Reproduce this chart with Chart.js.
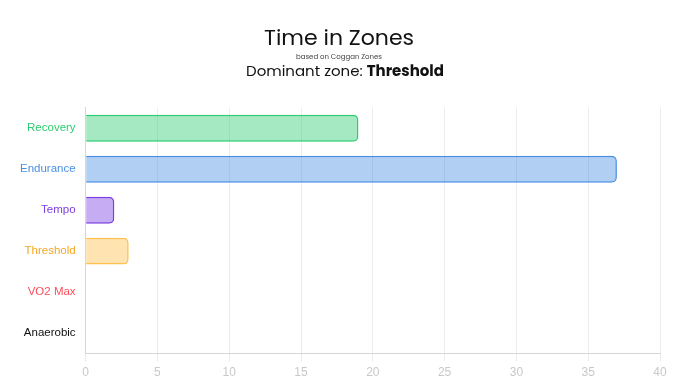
<!DOCTYPE html>
<html>
<head>
<meta charset="utf-8">
<script src="https://cdn.jsdelivr.net/npm/chart.js@4/dist/chart.umd.min.js"></script>
<style>
  body { margin: 0; background: #fff; }
  #wrap { width: 690px; height: 387px; }
</style>
</head>
<body>
<div id="wrap"><canvas id="chart-area"></canvas></div>
<script>
// time in each zone (minutes)
var zones = ['Recovery', 'Endurance', 'Tempo', 'Threshold', 'VO2 Max', 'Anaerobic'];
var minutes = [19, 37, 2, 3, 0, 0];
var zoneColors = ['#2ecc71', '#4a90e2', '#7b3fe4', '#f5a623', '#ff4d5a', '#111111'];
var zoneFills = ['rgba(46,204,113,0.43)', 'rgba(74,144,226,0.43)', 'rgba(123,63,228,0.43)', 'rgba(255,192,77,0.43)', 'rgba(255,77,90,0.43)', 'rgba(0,0,0,0.43)'];
var zoneBorders = ['#2ecc71', '#4a90e2', '#7b3fe4', '#ffc04d', '#ff4d5a', '#111111'];
var dominant = 'Threshold';

var font = 'Poppins, "Open Sans", sans-serif';

// draws "Dominant zone: Threshold" with the zone name in bold
var dominantLine = {
    id: 'dominantLine',
    afterDraw: function(chart) {
        var ctx = chart.ctx;
        var a = 'Dominant zone: ', b = dominant;
        ctx.save();
        ctx.textBaseline = 'middle';
        ctx.fillStyle = '#111';
        ctx.font = '15px ' + font;
        var wa = ctx.measureText(a).width;
        ctx.font = 'bold 15px ' + font;
        var wb = ctx.measureText(b).width;
        var x = (chart.width - wa - wb) / 2;
        var y = 72;
        ctx.font = '15px ' + font;
        ctx.fillText(a, x, y);
        ctx.font = 'bold 15px ' + font;
        ctx.fillText(b, x + wa, y);
        ctx.restore();
    }
};

var config = {
    type: 'bar',
    data: {
        labels: zones,
        datasets: [{
            data: minutes,
            backgroundColor: zoneFills,
            borderColor: zoneBorders,
            borderWidth: 1.5,
            borderRadius: 5,
            borderSkipped: 'start',
            barPercentage: 0.82
        }]
    },
    options: {
        indexAxis: 'y',
        responsive: true,
        maintainAspectRatio: false,
        animation: false,
        layout: { padding: { left: 18, right: 30, top: 10, bottom: 3 } },
        plugins: {
            legend: { display: false },
            tooltip: { enabled: false },
            title: {
                display: true,
                text: 'Time in Zones',
                color: '#111',
                font: { family: font, size: 22, weight: 'normal' },
                padding: { top: 16, bottom: 1 }
            },
            subtitle: {
                display: true,
                text: 'based on Coggan Zones',
                color: '#444',
                font: { family: font, size: 7 },
                padding: { top: 0, bottom: 46 }
            }
        },
        scales: {
            x: {
                min: 0,
                max: 40,
                ticks: { stepSize: 5, color: '#c8c8c8', font: { size: 12 }, padding: 4 },
                grid: { color: '#ececec' },
                border: { color: '#d6d6d6' }
            },
            y: {
                ticks: {
                    color: zoneColors,
                    font: { family: 'Arial, "Liberation Sans", sans-serif', size: 11.5 },
                    padding: 2
                },
                grid: { display: false },
                border: { color: '#d6d6d6' }
            }
        }
    },
    plugins: [dominantLine]
};

var ctx = document.getElementById('chart-area').getContext('2d');
window.myBar = new Chart(ctx, config);
</script>
</body>
</html>
